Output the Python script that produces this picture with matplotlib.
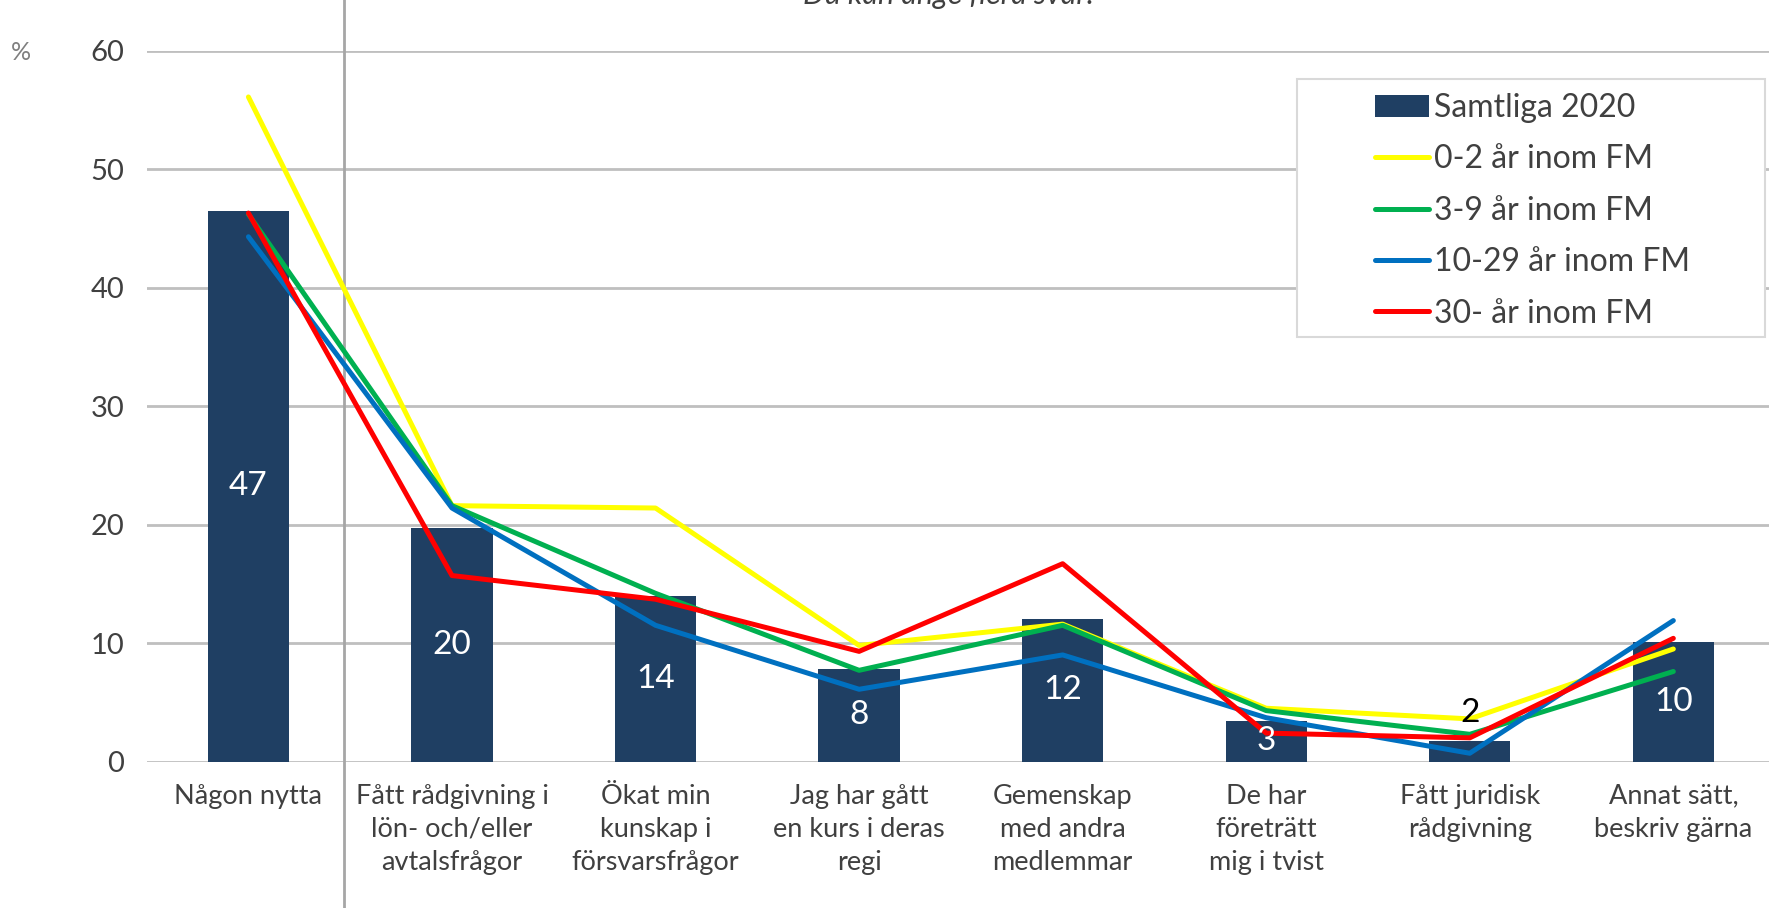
import numpy as np
import matplotlib.pyplot as plt
import matplotlib.transforms as mtransforms
from matplotlib.patches import Rectangle

# Kategorier och värden
categories = ["Någon nytta",
              "Fått rådgivning i\nlön- och/eller\navtalsfrågor",
              "Ökat min\nkunskap i\nförsvarsfrågor",
              "Jag har gått\nen kurs i deras\nregi",
              "Gemenskap\nmed andra\nmedlemmar",
              "De har\nföreträtt\nmig i tvist",
              "Fått juridisk\nrådgivning",
              "Annat sätt,\nbeskriv gärna"]
samtliga = [46.5, 19.7, 14.0, 7.8, 12.0, 3.4, 1.7, 10.1]
bar_labels = ["47", "20", "14", "8", "12", "3", "2", "10"]
ar_0_2 = [56.1, 21.6, 21.4, 9.8, 11.6, 4.5, 3.6, 9.5]
ar_3_9 = [46.2, 21.6, 14.2, 7.7, 11.5, 4.3, 2.3, 7.6]
ar_10_29 = [44.3, 21.4, 11.5, 6.1, 9.0, 3.7, 0.7, 11.9]
ar_30 = [46.3, 15.7, 13.7, 9.3, 16.7, 2.4, 2.0, 10.4]

plt.rcParams['font.family'] = ['Lato', 'DejaVu Sans']
txt = '#404040'

fig = plt.figure(figsize=(17.69, 9.08), dpi=100)
ax = fig.add_axes([0.0829, 0.1613, 0.9171, 0.7828])

x = np.arange(len(categories))
bars = ax.bar(x, samtliga, width=0.4, color='#1F3F63', label='Samtliga 2020', zorder=2)

l1, = ax.plot(x, ar_0_2, color='#FFFF00', lw=3.6, label='0-2 år inom FM', zorder=3, solid_capstyle='round')
l2, = ax.plot(x, ar_3_9, color='#00B050', lw=3.6, label='3-9 år inom FM', zorder=3, solid_capstyle='round')
l3, = ax.plot(x, ar_10_29, color='#0070C0', lw=3.6, label='10-29 år inom FM', zorder=3, solid_capstyle='round')
l4, = ax.plot(x, ar_30, color='#FF0000', lw=3.6, label='30- år inom FM', zorder=4, solid_capstyle='round')

# etiketter i staplarna
for i, (v, lab) in enumerate(zip(samtliga, bar_labels)):
    if v < 3:
        ax.text(i, v + 2.4, lab, ha='center', va='center', fontsize=24, color='black', zorder=5)
    else:
        ax.text(i, v / 2, lab, ha='center', va='center', fontsize=24, color='white', zorder=5)

ax.set_xlim(-0.5, 7.47)
ax.set_ylim(0, 60)
ax.set_yticks(range(0, 61, 10))
ax.set_xticks(x)
ax.set_xticklabels(categories, fontsize=19.5, color=txt, linespacing=1.4)
ax.tick_params(axis='both', length=0)
ax.tick_params(axis='x', pad=16)
ax.tick_params(axis='y', pad=16, labelsize=21, labelcolor=txt)
ax.yaxis.grid(True, color='#BFBFBF', lw=2, zorder=0)
ax.set_axisbelow(True)
for s in ax.spines.values():
    s.set_visible(False)

# vertikal skiljelinje
trans = mtransforms.blended_transform_factory(ax.transData, ax.transAxes)
ax.plot([0.47, 0.47], [-0.25, 1.1], color='#A6A6A6', lw=2, transform=trans, clip_on=False, zorder=1)

fig.text(0.006, 0.942, '%', fontsize=18, color='#7F7F7F', va='center')
fig.text(0.536, 0.996, 'Du kan ange flera svar.', fontsize=22, style='italic', color=txt,
         ha='center', va='baseline')

# legend med egen ram
W, H = 1769, 908
fig.patches.append(Rectangle((1297 / W, 1 - 337 / H), 468 / W, 258 / H, transform=fig.transFigure,
                             facecolor='white', edgecolor='#D9D9D9', lw=1.5, zorder=5))
leg = fig.legend([bars, l1, l2, l3, l4], [h.get_label() for h in [bars, l1, l2, l3, l4]],
                 loc='upper left', bbox_to_anchor=(1375 / W, 1 - 93 / H), fontsize=23,
                 frameon=False, handlelength=1.7, handletextpad=0.15, labelspacing=0.67,
                 borderpad=0, borderaxespad=0)
leg.set_zorder(6)
for t in leg.get_texts():
    t.set_color(txt)

plt.savefig('out.png', dpi=100)
